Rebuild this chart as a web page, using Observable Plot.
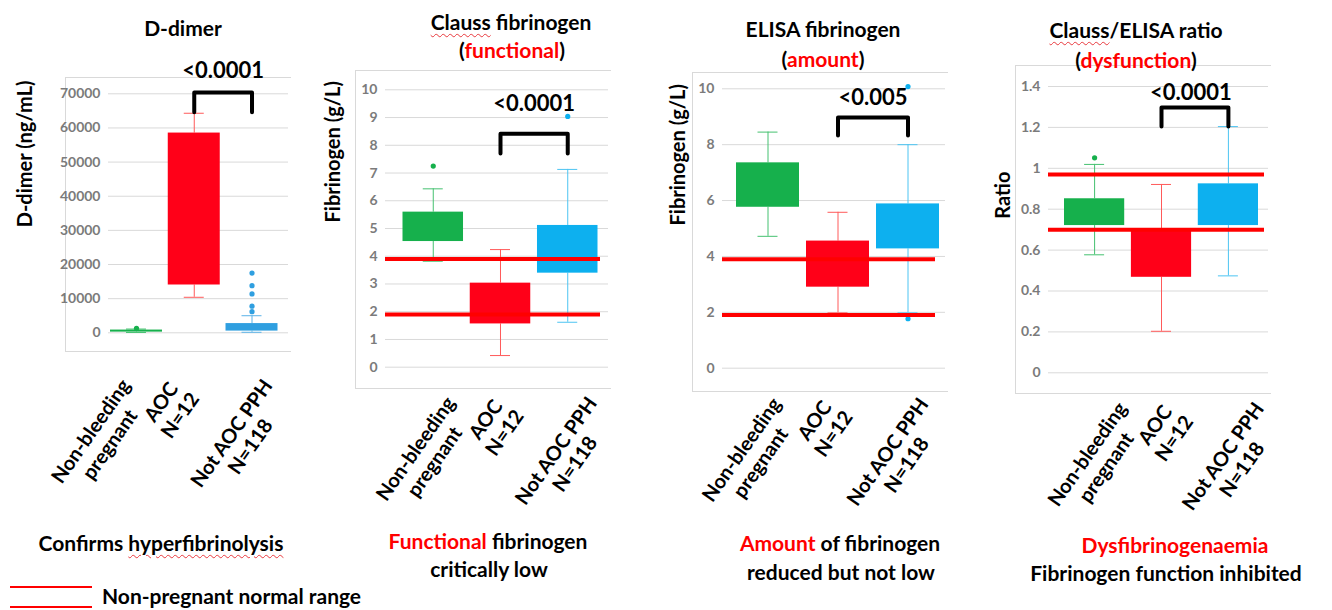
<!DOCTYPE html>
<html>
<head>
<meta charset="utf-8">
<script src="https://cdn.jsdelivr.net/npm/d3@7"></script>
<script src="https://cdn.jsdelivr.net/npm/@observablehq/plot@0.6"></script>
<style>
  body { margin: 0; background: #fff; }
  #wrap { position: relative; width: 1332px; height: 610px; overflow: hidden; background: #fff;
          font-family: Lato, "Open Sans", sans-serif; font-weight: 700; color: #000; }
  .ctr { position: absolute; transform: translate(-50%, -50%); white-space: nowrap; line-height: 1.2; }
  .red { color: #ff0000; }
  .wavy { text-decoration: underline wavy #e8383d; text-decoration-thickness: 1px; text-underline-offset: 3px; }
  .frame { position: absolute; border-left: 1px solid #d9d9d9; border-top: 1px solid #d9d9d9; border-bottom: 1px solid #d9d9d9; }
  svg [aria-label="y-axis tick label"] { font-weight: 700; }
</style>
</head>
<body>
<div id="wrap"></div>
<script>
// ---------- data ----------
const groups = ["Non-bleeding pregnant", "AOC N=12", "Not AOC PPH N=118"];
const groupLabels = ["Non-bleeding\npregnant", "AOC\nN=12", "Not AOC PPH\nN=118"];

const ddimerTicks = [0, 10000, 20000, 30000, 40000, 50000, 60000, 70000];
const ddimerQ1 = [200, 14000, 500];
const ddimerQ3 = [800, 58500, 2700];
const ddimerLow = [100, 10400, 150];
const ddimerHigh = [1100, 64300, 5000];
const ddimerOutlierGroup = [0, 2, 2, 2, 2, 2];
const ddimerOutlierValue = [1300, 17500, 13800, 11400, 7800, 6200];

const claussTicks = [0, 1, 2, 3, 4, 5, 6, 7, 8, 9, 10];
const claussQ1 = [4.53, 1.56, 3.39];
const claussQ3 = [5.59, 3.03, 5.11];
const claussLow = [3.82, 0.42, 1.62];
const claussHigh = [6.43, 4.24, 7.13];
const claussOutlierGroup = [0, 2];
const claussOutlierValue = [7.25, 9.04];

const elisaTicks = [0, 2, 4, 6, 8, 10];
const elisaQ1 = [5.76, 2.90, 4.27];
const elisaQ3 = [7.35, 4.55, 5.88];
const elisaLow = [4.72, 1.98, 1.98];
const elisaHigh = [8.45, 5.58, 8.0];
const elisaOutlierGroup = [2, 2];
const elisaOutlierValue = [10.08, 1.77];

const ratioTicks = [0, 0.2, 0.4, 0.6, 0.8, 1, 1.2, 1.4];
const ratioQ1 = [0.72, 0.467, 0.72];
const ratioQ3 = [0.851, 0.704, 0.924];
const ratioLow = [0.577, 0.203, 0.474];
const ratioHigh = [1.019, 0.921, 1.204];
const ratioOutlierGroup = [0];
const ratioOutlierValue = [1.051];

const normalRangeFibrinogen = [1.9, 3.9];
const normalRangeRatio = [0.70, 0.97];
const pValues = ["<0.0001", "<0.0001", "<0.005", "<0.0001"];

// ---------- styles ----------
const GREEN = "#16b04c", RED = "#ff0018", BLUE = "#0db0ef", BLUE_D = "#2f9fe0";
const W_GREEN = "#45c170", W_RED = "#ff5a5a", W_BLUE = "#4cc4f2";
const H = 520;
const CAT_FONT = 20, CAT_ANGLE = 55;
const wrap = document.getElementById("wrap");
const measureCtx = document.createElement("canvas").getContext("2d");
measureCtx.font = `bold ${CAT_FONT}px Lato`;
const longestLine = s => Math.max(...s.split("\n").map(t => measureCtx.measureText(t).width));

function frame(l, t, r, b) {
  const d = document.createElement("div");
  d.className = "frame";
  Object.assign(d.style, {left: l + "px", top: t + "px", width: (r - l) + "px", height: (b - t) + "px"});
  wrap.appendChild(d);
}
frame(65, 77, 290, 350);
frame(355, 70, 610, 387);
frame(692, 72, 947, 390);
frame(1015, 65, 1270, 392);

function makePanel(c) {
  const n = groups.length, pad = 0.1;
  const [a, b] = c.xRange;
  const step = (b - a) / (n - pad);
  const bw = step * (1 - pad);
  const cap = Math.max(0, (bw - 20) / 2);
  const rows = groups.map((g, i) => ({g, q1: c.q1[i], q3: c.q3[i], lo: c.lo[i], hi: c.hi[i], fill: c.colors[i], wc: c.whisk[i]}));
  const outl = c.outG.map((gi, k) => ({g: groups[gi], v: c.outV[k], fill: c.colors[gi]}));
  const bracket = [
    {g: groups[1], v: c.bracket[0]}, {g: groups[1], v: c.bracket[1]},
    {g: groups[2], v: c.bracket[1]}, {g: groups[2], v: c.bracket[0]}
  ];
  const marks = [
    Plot.gridY(c.ticks, {stroke: "#d9d9d9", strokeOpacity: 1, strokeWidth: 1}),
    Plot.axisY(c.ticks, {tickSize: 0, tickPadding: 8, tickFormat: c.fmt, fontSize: 14, fontWeight: "bold", color: "#7b7b7b", label: null}),
    Plot.ruleX(rows, {x: "g", y1: "lo", y2: "q1", stroke: "wc", strokeWidth: 1}),
    Plot.ruleX(rows, {x: "g", y1: "q3", y2: "hi", stroke: "wc", strokeWidth: 1}),
    Plot.tickY(rows, {x: "g", y: "lo", stroke: "wc", strokeWidth: 1, insetLeft: cap, insetRight: cap}),
    Plot.tickY(rows, {x: "g", y: "hi", stroke: "wc", strokeWidth: 1, insetLeft: cap, insetRight: cap}),
    Plot.barY(rows, {x: "g", y1: "q1", y2: "q3", fill: "fill"}),
    Plot.dot(outl, {x: "g", y: "v", r: 2.6, fill: "fill"})
  ];
  if (c.ref) marks.push(Plot.ruleY(c.ref, {stroke: "#ff0000", strokeWidth: 4, insetRight: c.refInsetRight}));
  marks.push(
    Plot.line(bracket, {x: "g", y: "v", stroke: "#000", strokeWidth: 4, strokeLinejoin: "round"}),
    Plot.text([c.p], {x: [groups[1]], y: [c.pY], text: d => d, dx: step / 2 + (c.pDx || 0), fontSize: 22, fontWeight: "bold", fill: "#000"}),
    Plot.text([c.yLabel], {frameAnchor: "left", text: d => d, rotate: -90, dx: c.yLabelDx, dy: c.yLabelDy, fontSize: 20, fontWeight: "bold", fill: "#000"})
  );
  // category labels: lines centred, block hung from a common top line
  const sinA = Math.sin(CAT_ANGLE * Math.PI / 180);
  groups.forEach((g, i) => {
    const L = longestLine(groupLabels[i]);
    marks.push(Plot.text([groupLabels[i]], {
      x: [g], frameAnchor: "bottom", text: d => d, rotate: -CAT_ANGLE,
      textAnchor: "middle", lineAnchor: "middle", lineHeight: 1.15,
      dx: c.catDx + (i - 1) * c.catSpread, dy: c.catTop + sinA * L / 2,
      fontSize: CAT_FONT, fontWeight: "bold", fill: "#000"
    }));
  });
  const svg = Plot.plot({
    width: c.width, height: H,
    marginLeft: c.ml, marginRight: c.mr, marginTop: c.yTop, marginBottom: H - c.y0,
    x: {type: "band", domain: groups, range: c.xRange, paddingInner: pad, paddingOuter: 0, round: false, axis: null},
    y: {domain: c.domain, range: [c.y0, c.yTop], axis: null},
    color: {type: "identity"},
    style: {fontFamily: "Lato, sans-serif", overflow: "visible", background: "transparent"},
    marks
  });
  Object.assign(svg.style, {position: "absolute", left: c.left + "px", top: "0px", maxWidth: "none"});
  wrap.appendChild(svg);
}

makePanel({
  left: 0, width: 300, ml: 108, mr: 12, yTop: 93.3, y0: 332.3, xRange: [110, 277.5],
  domain: [0, 70000], ticks: ddimerTicks, fmt: d3.format("d"),
  q1: ddimerQ1, q3: ddimerQ3, lo: ddimerLow, hi: ddimerHigh,
  colors: [GREEN, RED, BLUE_D], whisk: [W_GREEN, W_RED, "#5ab3e8"],
  outG: ddimerOutlierGroup, outV: ddimerOutlierValue,
  ref: null, bracket: [64600, 70400], p: pValues[0], pY: 76800,
  yLabel: "D-dimer (ng/mL)", yLabelDx: -83, yLabelDy: 14, catDx: -24, catSpread: 12.5, catTop: 55
});
makePanel({
  left: 310, width: 310, ml: 75, mr: 12, yTop: 89.3, y0: 366.7, xRange: [92.5, 287.5],
  domain: [0, 10], ticks: claussTicks, fmt: d3.format("d"),
  q1: claussQ1, q3: claussQ3, lo: claussLow, hi: claussHigh,
  colors: [GREEN, RED, BLUE], whisk: [W_GREEN, W_RED, W_BLUE],
  outG: claussOutlierGroup, outV: claussOutlierValue,
  ref: normalRangeFibrinogen, refInsetRight: 8, bracket: [7.70, 8.42], p: pValues[1], pY: 9.5,
  yLabel: "Fibrinogen (g/L)", yLabelDx: -52, yLabelDy: -6, catDx: -5.7, catSpread: 3, catTop: 38
});
makePanel({
  left: 640, width: 320, ml: 82, mr: 15, yTop: 88.3, y0: 367.7, xRange: [96, 299],
  domain: [0, 10], ticks: elisaTicks, fmt: d3.format("d"),
  q1: elisaQ1, q3: elisaQ3, lo: elisaLow, hi: elisaHigh,
  colors: [GREEN, RED, BLUE], whisk: [W_GREEN, W_RED, W_BLUE],
  outG: elisaOutlierGroup, outV: elisaOutlierValue,
  ref: normalRangeFibrinogen, refInsetRight: 10, bracket: [8.33, 8.97], p: pValues[2], pY: 9.69,
  yLabel: "Fibrinogen (g/L)", yLabelDx: -44, yLabelDy: -3, catDx: -14.3, catSpread: 3, catTop: 38
});
makePanel({
  left: 970, width: 320, ml: 78, mr: 22, yTop: 86, y0: 372.3, xRange: [94, 288],
  domain: [0, 1.4], ticks: ratioTicks, fmt: d3.format("~g"),
  q1: ratioQ1, q3: ratioQ3, lo: ratioLow, hi: ratioHigh,
  colors: [GREEN, RED, BLUE], whisk: [W_GREEN, W_RED, W_BLUE],
  outG: ratioOutlierGroup, outV: ratioOutlierValue,
  ref: normalRangeRatio, refInsetRight: 4, bracket: [1.204, 1.297], p: pValues[3], pY: 1.37, pDx: -4,
  yLabel: "Ratio", yLabelDx: -45, yLabelDy: -11, catDx: 2.7, catSpread: 1, catTop: 38
});

// ---------- titles, captions, legend ----------
function addText(html, x, y, size) {
  const d = document.createElement("div");
  d.className = "ctr";
  d.innerHTML = html;
  Object.assign(d.style, {left: x + "px", top: y + "px", fontSize: size + "px"});
  wrap.appendChild(d);
}
addText("D-dimer", 183, 28, 21);
addText('<span class="wavy">Clauss</span> fibrinogen', 511, 22, 21);
addText('(<span class="red">functional</span>)', 512, 50, 21);
addText("ELISA fibrinogen", 823, 29, 21);
addText('(<span class="red">amount</span>)', 823, 59, 21);
addText('<span class="wavy">Clauss</span>/ELISA ratio', 1136, 30, 21);
addText('(<span class="red">dysfunction</span>)', 1136, 60, 21);

addText('Confirms <span class="wavy">hyperfibrinolysis</span>', 161, 543, 21);
addText('<span class="red">Functional</span> fibrinogen', 488, 541, 21);
addText("critically low", 489, 569, 21);
addText('<span class="red">Amount</span> of fibrinogen', 840, 543, 21);
addText("reduced but not low", 841, 572, 21);
addText('<span class="red">Dysfibrinogenaemia</span>', 1175, 545, 21);
addText("Fibrinogen function inhibited", 1166, 573, 21);

for (const y of [586, 606]) {
  const l = document.createElement("div");
  Object.assign(l.style, {position: "absolute", left: "10px", top: y + "px", width: "82px", height: "2px", background: "#ff0000"});
  wrap.appendChild(l);
}
const leg = document.createElement("div");
leg.textContent = "Non-pregnant normal range";
Object.assign(leg.style, {position: "absolute", left: "102px", top: "596px", transform: "translateY(-50%)", fontSize: "21px", lineHeight: "1.2", whiteSpace: "nowrap"});
wrap.appendChild(leg);
</script>
</body>
</html>
